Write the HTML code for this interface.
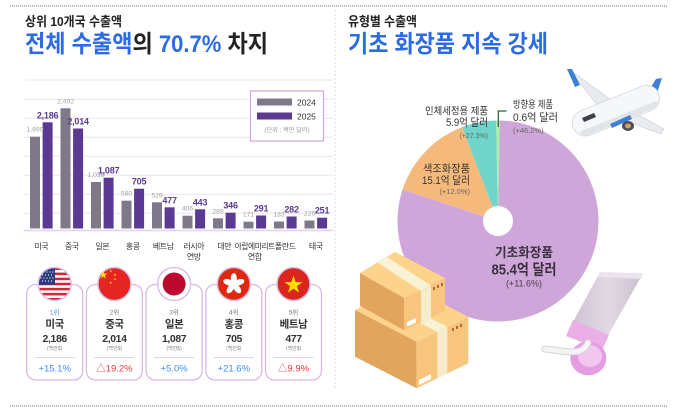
<!DOCTYPE html>
<html><head><meta charset="utf-8">
<style>
html,body{margin:0;padding:0;background:#fff;}
svg{display:block;}
text{font-family:"Liberation Sans","Noto Sans CJK KR",sans-serif;}
</style></head>
<body>
<svg width="680" height="418" viewBox="0 0 680 418" xmlns="http://www.w3.org/2000/svg">
<defs>
<path id="star" d="M0,-1 L0.2245,-0.309 L0.951,-0.309 L0.363,0.118 L0.588,0.809 L0,0.382 L-0.588,0.809 L-0.363,0.118 L-0.951,-0.309 L-0.2245,-0.309 Z"/>
<clipPath id="c1"><circle cx="54.7" cy="284" r="16.5"/></clipPath>
<linearGradient id="tubeg" x1="0" y1="0" x2="1" y2="0">
<stop offset="0" stop-color="#cfc3d3"/><stop offset="0.5" stop-color="#e2d9e4"/><stop offset="1" stop-color="#cbbfcf"/>
</linearGradient>
</defs>

<!-- frame lines -->
<line x1="10" y1="6" x2="667" y2="6" stroke="#9a9a9a" stroke-width="1.4" stroke-dasharray="1,1"/>
<line x1="10" y1="406" x2="667" y2="406" stroke="#9a9a9a" stroke-width="1.4" stroke-dasharray="1,1"/>
<line x1="335" y1="10" x2="335" y2="388" stroke="#e6d3ee" stroke-width="1" stroke-dasharray="2,2"/>
<line x1="25" y1="80" x2="332" y2="80" stroke="#f0dcf3" stroke-width="1"/>

<!-- headers -->
<text x="25" y="26" font-size="13" font-weight="700" fill="#222" textLength="97" lengthAdjust="spacingAndGlyphs">상위 10개국 수출액</text>
<text x="25" y="52" font-size="24" font-weight="700" fill="#2c6be4" textLength="243" lengthAdjust="spacingAndGlyphs">전체 수출액<tspan fill="#222">의</tspan> 70.7% <tspan fill="#222">차지</tspan></text>
<text x="348" y="26" font-size="13" font-weight="700" fill="#222" textLength="69" lengthAdjust="spacingAndGlyphs">유형별 수출액</text>
<text x="348" y="52" font-size="24" font-weight="700" fill="#2c6be4" textLength="200" lengthAdjust="spacingAndGlyphs">기초 화장품 지속 강세</text>

<!-- gridlines -->
<g stroke="#efe2f3" stroke-width="1">
<line x1="24" y1="99.3" x2="333" y2="99.3"/>
<line x1="24" y1="118.3" x2="333" y2="118.3"/>
<line x1="24" y1="137.3" x2="333" y2="137.3"/>
<line x1="24" y1="156.3" x2="333" y2="156.3"/>
<line x1="24" y1="175.3" x2="333" y2="175.3"/>
<line x1="24" y1="194.3" x2="333" y2="194.3"/>
<line x1="24" y1="213.3" x2="333" y2="213.3"/>
</g>
<line x1="24" y1="230.5" x2="333" y2="230.5" stroke="#e6d0ee" stroke-width="1.5"/>

<!-- legend -->
<rect x="250.5" y="91" width="73" height="50" fill="#fff" stroke="#cfa9dd" stroke-width="1.2"/>
<rect x="257" y="98.5" width="35" height="7" fill="#7f7888"/>
<rect x="257" y="112.5" width="35" height="7" fill="#5b3a94"/>
<text x="297" y="105.5" font-size="8.5" fill="#333">2024</text>
<text x="297" y="119.5" font-size="8.5" fill="#333">2025</text>
<text x="287" y="132" font-size="6.2" fill="#999" text-anchor="middle">(단위 : 백만 달러)</text>

<!-- bars 2024 -->
<g fill="#7f7888">
<rect x="30" y="136.7" width="10" height="91.8"/>
<rect x="60.5" y="108.3" width="10" height="120.2"/>
<rect x="91" y="182" width="10" height="46.5"/>
<rect x="121.5" y="200.7" width="10" height="27.8"/>
<rect x="152" y="202.3" width="10" height="26.2"/>
<rect x="182.5" y="215.7" width="10" height="12.8"/>
<rect x="213" y="218.3" width="10" height="10.2"/>
<rect x="243.5" y="221.7" width="10" height="6.8"/>
<rect x="274" y="221.5" width="10" height="7"/>
<rect x="304.5" y="220.5" width="10" height="8"/>
</g>
<!-- bars 2025 -->
<g fill="#5b3a94">
<rect x="42.6" y="122.3" width="10" height="106.2"/>
<rect x="73.1" y="128.5" width="10" height="100"/>
<rect x="103.6" y="177.7" width="10" height="50.8"/>
<rect x="134.1" y="188.7" width="10" height="39.8"/>
<rect x="164.6" y="207.3" width="10" height="21.2"/>
<rect x="195.1" y="209.3" width="10" height="19.2"/>
<rect x="225.6" y="212.7" width="10" height="15.8"/>
<rect x="256.1" y="215.5" width="10" height="13"/>
<rect x="286.6" y="216.5" width="10" height="12"/>
<rect x="317.1" y="217.7" width="10" height="10.8"/>
</g>
<!-- 2024 labels -->
<g font-size="6.8" fill="#a3a3a3" text-anchor="middle">
<text x="35" y="131.7">1,899</text>
<text x="65.5" y="103.3">2,492</text>
<text x="96" y="177">1,036</text>
<text x="126.5" y="195.7">580</text>
<text x="157" y="197.3">529</text>
<text x="187.5" y="210.7">406</text>
<text x="218" y="213.3">289</text>
<text x="248.5" y="216.7">171</text>
<text x="279" y="216.5">133</text>
<text x="309.5" y="215.5">226</text>
</g>
<!-- 2025 labels -->
<g font-size="9" font-weight="700" fill="#5b3a94" text-anchor="middle" letter-spacing="-0.2">
<text x="47.6" y="118.3">2,186</text>
<text x="78.1" y="124.5">2,014</text>
<text x="108.6" y="173.7">1,087</text>
<text x="139.1" y="184.7">705</text>
<text x="169.6" y="203.3">477</text>
<text x="200.1" y="205.3">443</text>
<text x="230.6" y="208.7">346</text>
<text x="261.1" y="211.5">291</text>
<text x="291.6" y="212.5">282</text>
<text x="322.1" y="213.7">251</text>
</g>
<!-- categories -->
<g font-size="8" fill="#333" text-anchor="middle" letter-spacing="-0.4">
<text x="41.3" y="249">미국</text>
<text x="71.8" y="249">중국</text>
<text x="102.3" y="249">일본</text>
<text x="132.8" y="249">홍콩</text>
<text x="163.3" y="249">베트남</text>
<text x="193.8" y="249">러시아</text>
<text x="193.8" y="259.5">연방</text>
<text x="224.3" y="249">대만</text>
<text x="254.8" y="249" textLength="40" lengthAdjust="spacingAndGlyphs">아랍에미리트</text>
<text x="254.8" y="259.5">연합</text>
<text x="285.3" y="249">폴란드</text>
<text x="315.8" y="249">태국</text>
</g>

<!-- cards -->
<g fill="#fff" stroke="#d9b8e6" stroke-width="1.3">
<rect x="26.7" y="284.5" width="56" height="95.5" rx="9"/>
<rect x="86.4" y="284.5" width="56" height="95.5" rx="9"/>
<rect x="146.1" y="284.5" width="56" height="95.5" rx="9"/>
<rect x="205.8" y="284.5" width="56" height="95.5" rx="9"/>
<rect x="265.5" y="284.5" width="56" height="95.5" rx="9"/>
</g>

<!-- US flag -->
<g clip-path="url(#c1)">
<rect x="38" y="267" width="34" height="34" fill="#fff"/>
<g fill="#d0283a">
<rect x="38" y="267.5" width="34" height="2.54"/>
<rect x="38" y="272.58" width="34" height="2.54"/>
<rect x="38" y="277.66" width="34" height="2.54"/>
<rect x="38" y="282.74" width="34" height="2.54"/>
<rect x="38" y="287.82" width="34" height="2.54"/>
<rect x="38" y="292.9" width="34" height="2.54"/>
<rect x="38" y="297.98" width="34" height="2.54"/>
</g>
<rect x="38" y="267" width="17" height="17.8" fill="#2c3a80"/>
<g fill="#fff">
<circle cx="44" cy="272" r="0.6"/><circle cx="47" cy="272" r="0.6"/><circle cx="50" cy="272" r="0.6"/><circle cx="53" cy="272" r="0.6"/>
<circle cx="42.5" cy="275" r="0.6"/><circle cx="45.5" cy="275" r="0.6"/><circle cx="48.5" cy="275" r="0.6"/><circle cx="51.5" cy="275" r="0.6"/>
<circle cx="41" cy="278" r="0.6"/><circle cx="44" cy="278" r="0.6"/><circle cx="47" cy="278" r="0.6"/><circle cx="50" cy="278" r="0.6"/><circle cx="53" cy="278" r="0.6"/>
<circle cx="42.5" cy="281" r="0.6"/><circle cx="45.5" cy="281" r="0.6"/><circle cx="48.5" cy="281" r="0.6"/><circle cx="51.5" cy="281" r="0.6"/>
</g>
</g>
<circle cx="54.7" cy="284" r="16.5" fill="none" stroke="#dcc0e8" stroke-width="1.5"/>

<!-- China flag -->
<circle cx="114.4" cy="284" r="16.5" fill="#e52521" stroke="#dcc0e8" stroke-width="1.5"/>
<g fill="#ffde00">
<use href="#star" transform="translate(103.4,275) scale(4.3)"/>
<use href="#star" transform="translate(110.7,271) scale(1.5)"/>
<use href="#star" transform="translate(115,275) scale(1.5)"/>
<use href="#star" transform="translate(115,279.3) scale(1.5)"/>
<use href="#star" transform="translate(110.7,282.7) scale(1.5)"/>
</g>

<!-- Japan flag -->
<circle cx="174.1" cy="284" r="16.5" fill="#fff" stroke="#dcc0e8" stroke-width="1.5"/>
<circle cx="174.1" cy="284" r="11.5" fill="#bc0a2e"/>

<!-- HK flag -->
<circle cx="233.8" cy="284" r="16.5" fill="#de2910" stroke="#dcc0e8" stroke-width="1.5"/>
<g fill="#fff" transform="translate(233.8,284)">
<ellipse cx="0" cy="-5.5" rx="3" ry="5.5" transform="rotate(0)"/>
<ellipse cx="0" cy="-5.5" rx="3" ry="5.5" transform="rotate(72)"/>
<ellipse cx="0" cy="-5.5" rx="3" ry="5.5" transform="rotate(144)"/>
<ellipse cx="0" cy="-5.5" rx="3" ry="5.5" transform="rotate(216)"/>
<ellipse cx="0" cy="-5.5" rx="3" ry="5.5" transform="rotate(288)"/>
</g>

<!-- Vietnam flag -->
<circle cx="293.5" cy="284" r="16.5" fill="#da251d" stroke="#dcc0e8" stroke-width="1.5"/>
<use href="#star" fill="#ffde00" transform="translate(293.5,285) scale(9.5)"/>

<!-- card text -->
<g text-anchor="middle">
<g font-size="6.5">
<text x="54.7" y="314.5" fill="#4a9af0">1위</text>
<text x="114.4" y="314.5" fill="#777">2위</text>
<text x="174.1" y="314.5" fill="#777">3위</text>
<text x="233.8" y="314.5" fill="#777">4위</text>
<text x="293.5" y="314.5" fill="#777">5위</text>
</g>
<g font-size="10.5" font-weight="700" fill="#333" letter-spacing="-0.4">
<text x="54.7" y="327.5">미국</text>
<text x="114.4" y="327.5">중국</text>
<text x="174.1" y="327.5">일본</text>
<text x="233.8" y="327.5">홍콩</text>
<text x="293.5" y="327.5">베트남</text>
<text x="54.7" y="342">2,186</text>
<text x="114.4" y="342">2,014</text>
<text x="174.1" y="342">1,087</text>
<text x="233.8" y="342">705</text>
<text x="293.5" y="342">477</text>
</g>
<g font-size="5" fill="#888">
<text x="54.7" y="350">(백만$)</text>
<text x="114.4" y="350">(백만$)</text>
<text x="174.1" y="350">(백만$)</text>
<text x="233.8" y="350">(백만$)</text>
<text x="293.5" y="350">(백만$)</text>
</g>
<g font-size="9.5">
<text x="54.7" y="371.5" fill="#3c8ef2">+15.1%</text>
<text x="114.4" y="371.5" fill="#e8383d">△19.2%</text>
<text x="174.1" y="371.5" fill="#3c8ef2">+5.0%</text>
<text x="233.8" y="371.5" fill="#3c8ef2">+21.6%</text>
<text x="293.5" y="371.5" fill="#e8383d">△9.9%</text>
</g>
</g>
<g stroke="#e6cfee" stroke-width="1">
<line x1="34.7" y1="357.5" x2="74.7" y2="357.5"/>
<line x1="94.4" y1="357.5" x2="134.4" y2="357.5"/>
<line x1="154.1" y1="357.5" x2="194.1" y2="357.5"/>
<line x1="213.8" y1="357.5" x2="253.8" y2="357.5"/>
<line x1="273.5" y1="357.5" x2="313.5" y2="357.5"/>
</g>

<!-- PIE -->
<path d="M498,221 L499.75,120.52 A100.5,100.5 0 1 1 402.59,189.44 Z" fill="#cfa6d9"/>
<path d="M498,221 L402.59,189.44 A100.5,100.5 0 0 1 462.15,127.11 Z" fill="#f6b97c"/>
<path d="M498,221 L462.15,127.11 A100.5,100.5 0 0 1 496.16,120.52 Z" fill="#6fd4c9"/>
<path d="M498,221 L496.16,120.52 A100.5,100.5 0 0 1 499.75,120.52 Z" fill="#a9f0a4"/>
<circle cx="498" cy="221" r="15" fill="#fff"/>
<path d="M498.3,127 L498.3,111 L506.5,111" fill="none" stroke="#2d5a3a" stroke-width="1.2"/>

<g fill="#333">
<text x="488" y="114.5" font-size="10" text-anchor="end" textLength="63" lengthAdjust="spacingAndGlyphs">인체세정용 제품</text>
<text x="488" y="126" font-size="11" text-anchor="end" textLength="42" lengthAdjust="spacingAndGlyphs">5.9억 달러</text>
<text x="488" y="138" font-size="7" fill="#666" text-anchor="end">(+27.3%)</text>
<text x="513" y="108" font-size="10" textLength="40" lengthAdjust="spacingAndGlyphs">방향용 제품</text>
<text x="513" y="121" font-size="11" textLength="45" lengthAdjust="spacingAndGlyphs">0.6억 달러</text>
<text x="513" y="133" font-size="7.5" fill="#666">(+46.2%)</text>
<text x="470" y="172" font-size="10.5" text-anchor="end" textLength="47" lengthAdjust="spacingAndGlyphs">색조화장품</text>
<text x="470" y="184" font-size="11" text-anchor="end" textLength="48" lengthAdjust="spacingAndGlyphs">15.1억 달러</text>
<text x="470" y="194" font-size="7.5" fill="#666" text-anchor="end">(+12.0%)</text>
<text x="524" y="257" font-size="13" font-weight="700" fill="#3a3040" text-anchor="middle" textLength="58" lengthAdjust="spacingAndGlyphs">기초화장품</text>
<text x="524" y="274.5" font-size="15" font-weight="700" fill="#3a3040" text-anchor="middle" textLength="65" lengthAdjust="spacingAndGlyphs">85.4억 달러</text>
<text x="524" y="286.5" font-size="9" fill="#4a4050" text-anchor="middle">(+11.6%)</text>
</g>

<!-- airplane -->
<g>
<polygon points="598,106 611,100 577,75 571,72" fill="#e9ebee" stroke="#c9ced3" stroke-width="0.6"/>
<polygon points="567,69 572,69 580,85 575,87" fill="#3d7fd9"/>
<polygon points="620,119 633,112 664,129 661,134" fill="#e9ebee" stroke="#c9ced3" stroke-width="0.6"/>
<polygon points="640,92 650,88 657,95 647,98" fill="#eef0f2" stroke="#c9ced3" stroke-width="0.5"/>
<polygon points="646,95 656,79 662,78 656,96" fill="#3d7fd9"/>
<g transform="rotate(-22 615 111)">
<rect x="570" y="98" width="92" height="26" rx="13" fill="#f6f7f8" stroke="#d2d6da" stroke-width="0.8"/>
<rect x="574" y="117" width="84" height="6" rx="3" fill="#e1e5e9"/>
</g>
<polygon points="582,118 594,113 596,117 584,122" fill="#3a3f4a"/>
<polygon points="610,124 630,115 632,119 612,128" fill="#3d7fd9"/>
<ellipse cx="628" cy="126" rx="6" ry="5" fill="#4a4d52"/>
<ellipse cx="628" cy="126" rx="3" ry="2.5" fill="#c9a36a"/>
</g>

<!-- boxes -->
<g>
<polygon points="355,310 406.6,285 468.3,316.7 416.7,341.7" fill="#fdd38c"/>
<polygon points="355,310 416.7,341.7 416.7,388.3 355,356.7" fill="#e2a55d"/>
<polygon points="416.7,341.7 468.3,316.7 468.3,363.3 416.7,388.3" fill="#f7c57d"/>
<polygon points="407.3,316.3 417.3,311.5 447.3,326.9 437.3,331.7" fill="#f8f3d6"/>
<polygon points="437.3,331.7 447.3,326.9 447.3,373.5 437.3,378.3" fill="#f4eccb"/>
<polygon points="419,380 431,374 431,379 419,385" fill="#fff"/>
<g fill="#b5673a"><rect x="452" y="328" width="2" height="3"/><rect x="456" y="326" width="2" height="3"/><rect x="460" y="324" width="2" height="3"/></g>
<polygon points="360,273 395,252 445,278 404,298" fill="#fdd38c"/>
<polygon points="360,273 404,298 404,330 360,306" fill="#e2a55d"/>
<polygon points="404,298 445,278 445,311 404,330" fill="#f7c57d"/>
<polygon points="377,262 386,256.5 431,285.5 421,291" fill="#f8f3d6"/>
<polygon points="421,291.5 431,286 431,319.4 421,325.4" fill="#f4eccb"/>
<polygon points="407,322 416,318 416,322.5 407,326.5" fill="#fff"/>
<g fill="#b5673a"><rect x="433" y="287" width="2" height="3"/><rect x="437" y="285" width="2" height="3"/><rect x="441" y="283" width="2" height="3"/></g>
</g>

<!-- cosmetic tube -->
<g>
<polygon points="600,272 643,273.5 607,337 573,322" fill="url(#tubeg)"/>
<polygon points="600,272 643,273.5 641,279 598,277" fill="#ebe4ed"/>
<polygon points="573,320 609,335 602,350 566,336" fill="#eab0e6"/>
<ellipse cx="588.3" cy="358.3" rx="18" ry="17" fill="#e59de2"/>
<ellipse cx="590" cy="356" rx="12" ry="11" fill="#f2c6ef"/>
<path d="M588,343 C581,357 566,351 545,349" fill="none" stroke="#d7d2d8" stroke-width="7" stroke-linecap="round"/>
<path d="M588,343 C581,357 566,351 545,349" fill="none" stroke="#f5f3f5" stroke-width="5" stroke-linecap="round"/>
</g>
</svg>
</body></html>
